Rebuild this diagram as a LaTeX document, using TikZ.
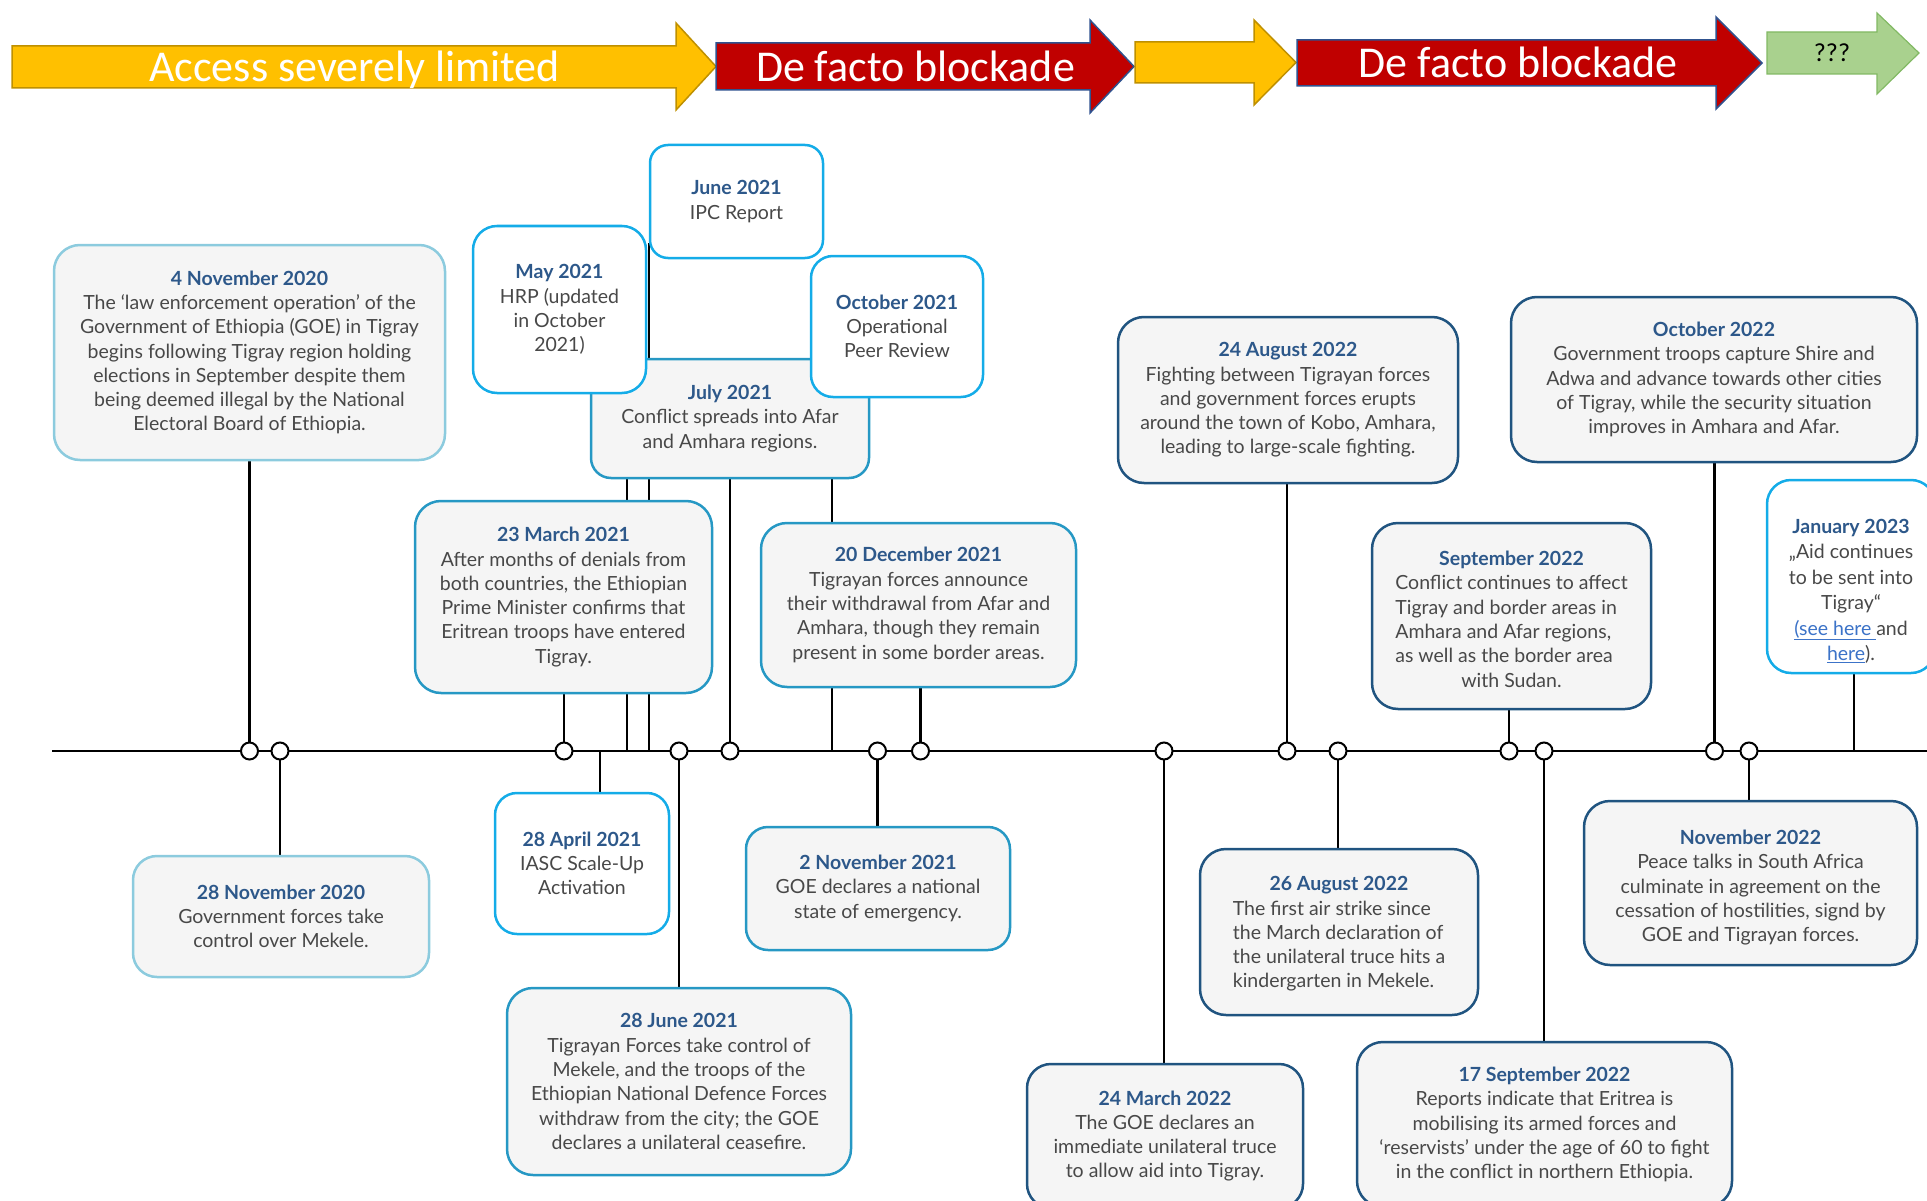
\documentclass[tikz,border=0pt]{standalone}
\usepackage{fontspec}
\setmainfont{Lato}
\newfontfamily\arrowfont{Carlito}
\definecolor{boxfill}{RGB}{245,245,245}
\definecolor{bordA}{RGB}{140,203,222}
\definecolor{bordB}{RGB}{38,152,196}
\definecolor{bordC}{RGB}{20,172,232}
\definecolor{bordD}{RGB}{32,84,128}
\definecolor{ttlblue}{RGB}{45,88,138}
\definecolor{bodygray}{RGB}{72,72,72}
\definecolor{linkblue}{RGB}{60,115,200}
\definecolor{yfill}{RGB}{255,192,0}
\definecolor{yline}{RGB}{191,144,0}
\definecolor{rfill}{RGB}{192,0,0}
\definecolor{rline}{RGB}{47,82,143}
\definecolor{gfill}{RGB}{169,209,142}
\definecolor{gline}{RGB}{130,185,100}
\newcommand{\ttl}[1]{{\bfseries\color{ttlblue}#1}}
\newcommand{\bodyfnt}{\fontsize{19.5}{24.3}\selectfont}
\pgfdeclarelayer{bg}
\pgfsetlayers{bg,main}
\tikzset{
  evbox/.style={rectangle, line width=2.5pt, fill=boxfill, align=center, inner sep=0pt, text=bodygray, font=\bodyfnt},
  boxA/.style={evbox, draw=bordA, rounded corners=#1},
  boxB/.style={evbox, draw=bordB, rounded corners=#1},
  boxC/.style={evbox, draw=bordC, fill=white, rounded corners=#1},
  boxD/.style={evbox, draw=bordD, rounded corners=#1},
  yarrow/.style={fill=yfill, draw=yline, line width=1.5pt},
  rarrow/.style={fill=rfill, draw=rline, line width=1.5pt},
  garrow/.style={fill=gfill, draw=gline, line width=1.2pt},
  arrtext/.style={font=\arrowfont\fontsize{44}{44}\selectfont, text=white, anchor=base, inner sep=0pt},
  dot/.style={circle, draw=black, fill=white, line width=2pt, minimum size=17pt, inner sep=0pt},
  conn/.style={line width=2.2pt, draw=black},
}
\begin{document}
\begin{tikzpicture}[x=1pt,y=-1pt]
\useasboundingbox (0,0) rectangle (1927,1201);
% ---- phase arrows
\draw[yarrow] (12,46) -- (676,46) -- (676,23) -- (716,66.5) -- (676,110) -- (676,88) -- (12,88) -- cycle;
\draw[rarrow] (716,43) -- (1090,43) -- (1090,20) -- (1134,66.5) -- (1090,113) -- (1090,90) -- (716,90) -- cycle;
\draw[yarrow] (1135,42) -- (1254,42) -- (1254,20) -- (1296,62.5) -- (1254,105) -- (1254,83) -- (1135,83) -- cycle;
\draw[rarrow] (1297,40) -- (1716,40) -- (1716,17) -- (1762,63) -- (1716,109) -- (1716,86) -- (1297,86) -- cycle;
\draw[garrow] (1767,32) -- (1877,32) -- (1877,13) -- (1919,53) -- (1877,94) -- (1877,74) -- (1767,74) -- cycle;
\node[arrtext] (ph1) at (354.5,82) {Access severely limited};
\node[arrtext] (ph2) at (915.5,82) {De facto blockade};
\node[arrtext] (ph3) at (1518,78) {De facto blockade};
\node[arrtext, text=black, font=\arrowfont\fontsize{26}{26}\selectfont] (ph4) at (1832,62) {???};

% ---- event boxes
\node[boxA=26pt, minimum width=391pt, minimum height=215pt] (nov4) at (249.5,352.5)
 {\ttl{4 November 2020}\\The ‘law enforcement operation’ of the\\Government of Ethiopia (GOE) in Tigray\\begins following Tigray region holding\\elections in September despite them\\being deemed illegal by the National\\Electoral Board of Ethiopia.};
\node[boxA=24pt, minimum width=296pt, minimum height=121pt] (nov28) at (281,916.5)
 {\ttl{28 November 2020}\\Government forces take\\control over Mekele.};
\node[boxB=20pt, minimum width=278pt, minimum height=119pt] (jul21) at (730,418.5)
 {\ttl{July 2021}\\Conflict spreads into Afar\\and Amhara regions.};
\node[boxC=24pt, minimum width=173pt, minimum height=167pt] (may21) at (559.5,309.5)
 {\ttl{May 2021}\\HRP (updated\\in October\\2021)};
\node[boxC=18pt, minimum width=173pt, minimum height=113pt] (jun21) at (736.5,201.5)
 {\ttl{June 2021}\\IPC Report};
\node[boxC=22pt, minimum width=172pt, minimum height=141pt] (oct21) at (897,326.5)
 {\ttl{October 2021}\\Operational\\Peer Review};
\node[boxB=26pt, minimum width=297pt, minimum height=192pt] (mar23) at (563.5,597)
 {\ttl{23 March 2021}\\After months of denials from\\both countries, the Ethiopian\\Prime Minister confirms that\\Eritrean troops have entered\\Tigray.};
\node[boxB=26pt, minimum width=315pt, minimum height=164pt] (dec20) at (918.5,605)
 {\ttl{20 December 2021}\\Tigrayan forces announce\\their withdrawal from Afar and\\Amhara, though they remain\\present in some border areas.};
\node[boxC=22pt, minimum width=174pt, minimum height=141pt] (apr28) at (582,863.5)
 {\ttl{28 April 2021}\\IASC Scale-Up\\Activation};
\node[boxB=26pt, minimum width=344pt, minimum height=187pt] (jun28) at (679,1081.5)
 {\ttl{28 June 2021}\\Tigrayan Forces take control of\\Mekele, and the troops of the\\Ethiopian National Defence Forces\\withdraw from the city; the GOE\\declares a unilateral ceasefire.};
\node[boxB=22pt, minimum width=264pt, minimum height=123pt] (nov2) at (878,888.5)
 {\ttl{2 November 2021}\\GOE declares a national\\state of emergency.};
\node[boxD=24pt, minimum width=276pt, minimum height=144pt] (mar24) at (1165,1136)
 {\ttl{24 March 2022}\\The GOE declares an\\immediate unilateral truce\\to allow aid into Tigray.};
\node[boxD=26pt, minimum width=278pt, minimum height=166pt] (aug26) at (1339,932)
 {\raisebox{0pt}[22pt][0pt]{}\ttl{26 August 2022}\\\begin{tabular}[t]{@{}l@{}}The first air strike since\\the March declaration of\\the unilateral truce hits a\\kindergarten in Mekele.\end{tabular}};
\node[boxD=26pt, minimum width=279pt, minimum height=186pt] (sep22) at (1511.5,616)
 {\raisebox{0pt}[28pt][0pt]{}\ttl{September 2022}\\\begin{tabular}[t]{@{}l@{}}Conflict continues to affect\\Tigray and border areas in\\Amhara and Afar regions,\\as well as the border area\\\multicolumn{1}{@{}c@{}}{with Sudan.}\end{tabular}};
\node[boxD=26pt, minimum width=375pt, minimum height=165pt] (sep17) at (1544.5,1124.5)
 {\ttl{17 September 2022}\\Reports indicate that Eritrea is\\mobilising its armed forces and\\‘reservists’ under the age of 60 to fight\\in the conflict in northern Ethiopia.};
\node[boxD=26pt, minimum width=333pt, minimum height=164pt] (nov22) at (1750.5,883)
 {\raisebox{0pt}[24pt][0pt]{}\ttl{November 2022}\\Peace talks in South Africa\\culminate in agreement on the\\cessation of hostilities, signd by\\GOE and Tigrayan forces.};
\node[boxD=26pt, minimum width=340pt, minimum height=166pt] (aug24) at (1288,400)
 {\ttl{24 August 2022}\\Fighting between Tigrayan forces\\and government forces erupts\\around the town of Kobo, Amhara,\\leading to large-scale fighting.};
\node[boxD=26pt, minimum width=406pt, minimum height=165pt] (oct22) at (1714,379.5)
 {\ttl{October 2022}\\Government troops capture Shire and\\Adwa and advance towards other cities\\of Tigray, while the security situation\\improves in Amhara and Afar.};
\node[boxC=24pt, minimum width=168pt, minimum height=193pt, font=\fontsize{19.5}{25.4}\selectfont] (jan23) at (1851,576.5)
 {\raisebox{0pt}[44pt][0pt]{}\ttl{January 2023}\\„Aid continues\\to be sent into\\Tigray“\\{\color{linkblue}\underline{(see here }}and\\{\color{linkblue}\underline{here}}).};

% ---- timeline points
\coordinate (tl0) at (52,751);
\coordinate (tl1) at (1927,751);
\coordinate (p1) at (249.5,751);
\coordinate (p2) at (280,751);
\coordinate (p3) at (564,751);
\coordinate (q600) at (600,751);
\coordinate (q627) at (627,751);
\coordinate (q649) at (649,751);
\coordinate (p4) at (679,751);
\coordinate (p5) at (730,751);
\coordinate (q832) at (832,751);
\coordinate (p6) at (877.5,751);
\coordinate (p7) at (920.5,751);
\coordinate (p8) at (1164,751);
\coordinate (p9) at (1287,751);
\coordinate (p10) at (1338,751);
\coordinate (p11) at (1509,751);
\coordinate (p12) at (1544,751);
\coordinate (p13) at (1714.5,751);
\coordinate (p14) at (1749,751);
\coordinate (q1854) at (1854,751);
\coordinate (junc) at ([yshift=16pt]jun21.south west);

\begin{pgfonlayer}{bg}
\draw[line width=2.6pt] (tl0) -- (tl1);
\draw[conn] (p1) -- (p1 |- nov4.center);
\draw[conn] (p2) -- (p2 |- nov28.center);
\draw[conn] (p3) -- (p3 |- mar23.center);
\draw[conn] (q600) -- (q600 |- apr28.center);
\draw[conn] (q627) -- (q627 |- may21.center);
\draw[conn] (q649) -- (q649 |- junc);
\draw[conn] (p4) -- (p4 |- jun28.center);
\draw[conn] (p5) -- (p5 |- jul21.center);
\draw[conn] (q832) -- (q832 |- oct21.center);
\draw[conn] (p6) -- (p6 |- nov2.center);
\draw[conn] (p7) -- (p7 |- dec20.center);
\draw[conn] (p8) -- (p8 |- mar24.center);
\draw[conn] (p9) -- (p9 |- aug24.center);
\draw[conn] (p10) -- (p10 |- aug26.center);
\draw[conn] (p11) -- (p11 |- sep22.center);
\draw[conn] (p12) -- (p12 |- sep17.center);
\draw[conn] (p13) -- (p13 |- oct22.center);
\draw[conn] (p14) -- (p14 |- nov22.center);
\draw[conn] (q1854) -- (q1854 |- jan23.center);
\end{pgfonlayer}

\foreach \i in {1,...,14} { \node[dot] (c\i) at (p\i) {}; }
\end{tikzpicture}
\end{document}
